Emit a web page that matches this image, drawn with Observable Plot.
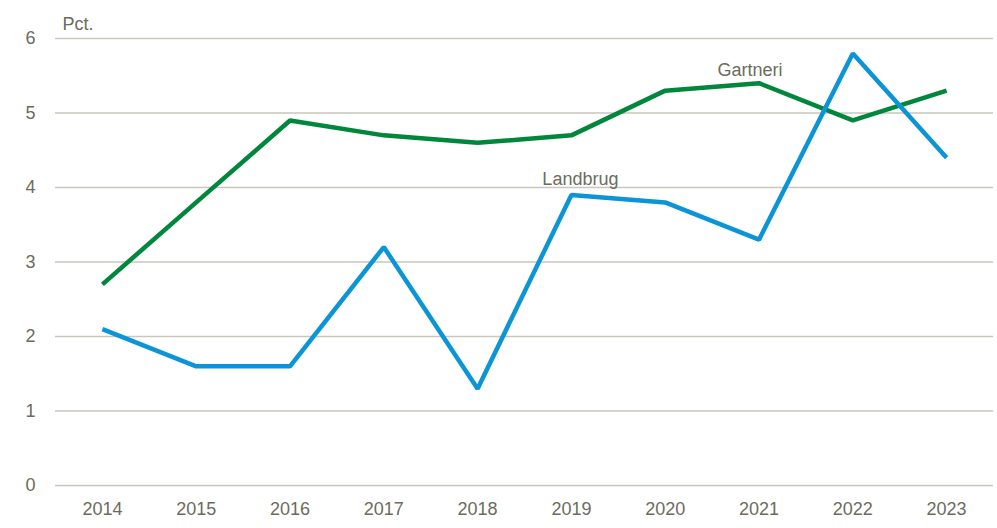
<!DOCTYPE html>
<html>
<head>
<meta charset="utf-8">
<script src="https://cdn.jsdelivr.net/npm/d3@7"></script>
<script src="https://cdn.jsdelivr.net/npm/@observablehq/plot@0.6"></script>
<style>
  html, body { margin: 0; padding: 0; background: #fff; }
  #chart { width: 997px; height: 528px; }
  #chart svg text { font-family: 'Liberation Sans', Arial, sans-serif; }
</style>
</head>
<body>
<div id="chart"></div>
<script>
const years = [2014, 2015, 2016, 2017, 2018, 2019, 2020, 2021, 2022, 2023];
const gartneri = [2.7, 3.8, 4.9, 4.7, 4.6, 4.7, 5.3, 5.4, 4.9, 5.3];
const landbrug = [2.1, 1.6, 1.6, 3.2, 1.3, 3.9, 3.8, 3.3, 5.8, 4.4];
const yTicks = [0, 1, 2, 3, 4, 5, 6];
const seriesNames = ["Gartneri", "Landbrug"];
const colors = ["#00873c", "#0b94d6"];
const labelYears = [2021, 2019];

const data = [];
years.forEach((y, i) => {
  data.push({year: y, value: gartneri[i], series: "Gartneri"});
  data.push({year: y, value: landbrug[i], series: "Landbrug"});
});
const labels = [
  {year: labelYears[0], value: gartneri[years.indexOf(labelYears[0])], series: seriesNames[0]},
  {year: labelYears[1], value: landbrug[years.indexOf(labelYears[1])], series: seriesNames[1]}
];

const textColor = "#6b6c5d";
const gridColor = "#c9c7bd";
const fs = 18;

const chart = Plot.plot({
  width: 997,
  height: 528,
  marginLeft: 55,
  marginRight: 4,
  marginTop: 38,
  marginBottom: 43,
  style: {fontFamily: "'Liberation Sans', Arial, sans-serif", fontSize: fs + "px", color: textColor, background: "#fff"},
  x: {domain: [years[0] - 0.5, years[years.length - 1] + 0.5], label: null},
  y: {domain: [0, 6], label: null},
  color: {domain: seriesNames, range: colors},
  marks: [
    Plot.ruleY(yTicks, {stroke: gridColor, strokeWidth: 1.3}),
    Plot.axisX({ticks: years, tickFormat: "d", tickSize: 0, tickPadding: 17, fontSize: fs, fill: textColor, label: null}),
    Plot.axisY({ticks: yTicks, tickFormat: "d", tickSize: 0, tickPadding: 20, fontSize: fs, fill: textColor, label: null}),
    Plot.line(data, {x: "year", y: "value", z: "series", stroke: "series", strokeWidth: 4.5, strokeLinejoin: "miter", strokeLinecap: "butt"}),
    Plot.text([labels[0]], {x: "year", y: "value", text: "series", dx: -9, dy: -13, fill: textColor, fontSize: fs}),
    Plot.text([labels[1]], {x: "year", y: "value", text: "series", dx: 9, dy: -16, fill: textColor, fontSize: fs}),
    Plot.text(["Pct."], {frameAnchor: "top-left", dx: 7, dy: -21, fill: textColor, fontSize: fs, textAnchor: "start"})
  ]
});
document.getElementById("chart").appendChild(chart);
</script>
</body>
</html>
